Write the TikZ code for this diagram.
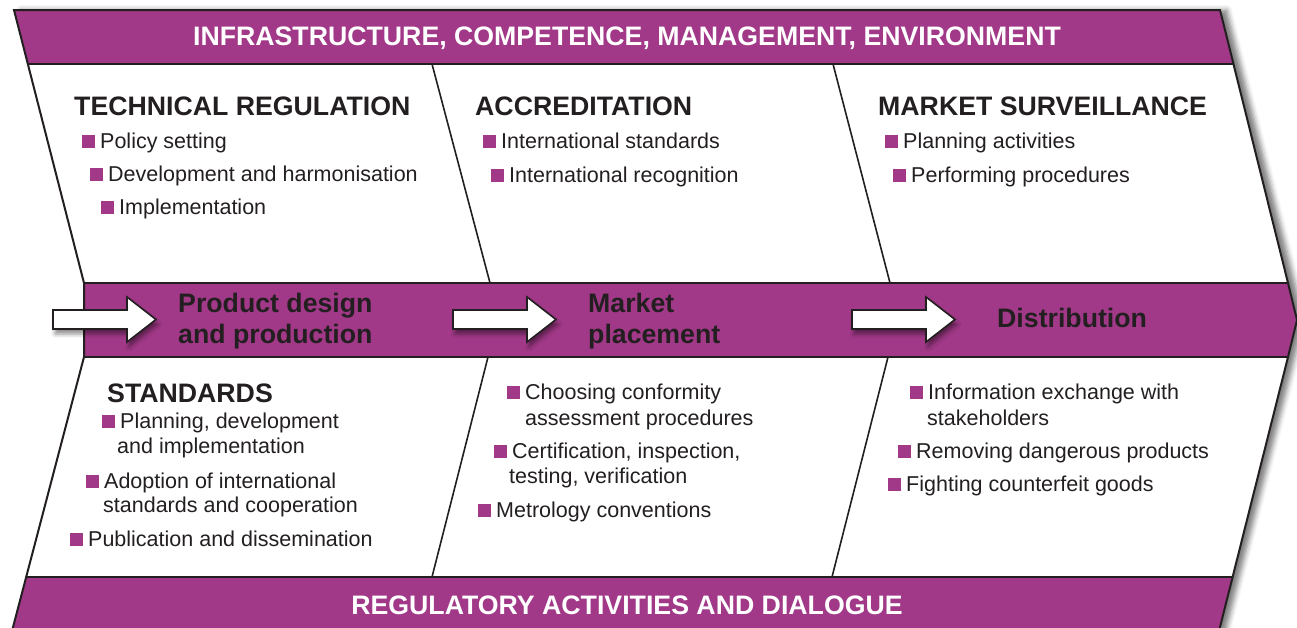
\documentclass[tikz,border=0pt]{standalone}
\usepackage{fontspec}
\setmainfont{Liberation Sans}
\usetikzlibrary{shadows.blur}
\definecolor{regpurple}{RGB}{161,57,136}
\definecolor{inkdark}{RGB}{35,31,32}
\newcommand{\sqbul}{\textcolor{regpurple}{\rule{13pt}{13.5pt}}\hspace{5pt}}
\begin{document}
\begin{tikzpicture}[x=1pt, y=-1pt,
    outline/.style={draw=inkdark, line width=2pt, line join=miter},
    divider/.style={draw=inkdark, line width=1.6pt},
    bandtitle/.style={anchor=base, inner sep=0pt, text=white, font=\bfseries\fontsize{26.7}{32}\selectfont},
    heading/.style={anchor=base west, inner sep=0pt, text=inkdark, font=\bfseries\fontsize{26.7}{32}\selectfont},
    stage/.style={heading},
    itemtext/.style={anchor=base west, inner sep=0pt, text=inkdark, font=\fontsize{21.5}{26}\selectfont},
    flowarrow/.style={fill=white, draw=inkdark, line width=1.6pt, line join=miter,
        blur shadow={shadow xshift=2pt, shadow yshift=-5pt, shadow opacity=45, shadow blur radius=4pt}}]
\useasboundingbox (0,0) rectangle (1297,627);
\coordinate (tl) at (14,10);
\coordinate (tr) at (1220,10);
\coordinate (rtop) at (1288,283);
\coordinate (rtip) at (1297,320);
\coordinate (rbot) at (1288,357);
\coordinate (br) at (1219,631);
\coordinate (bl) at (12,631);
\coordinate (lbot) at (84,357);
\coordinate (ltop) at (84,283);
\path[fill=white, blur shadow={shadow xshift=7pt, shadow yshift=0pt, shadow opacity=50, shadow blur radius=5pt}]
    (tl) -- (tr) -- (rtop) -- (rtip) -- (rbot) -- (br) -- (bl) -- (lbot) -- (ltop) -- cycle;
\begin{scope}
\clip (tl) -- (tr) -- (rtop) -- (rtip) -- (rbot) -- (br) -- (bl) -- (lbot) -- (ltop) -- cycle;
\fill[regpurple] (0,10) rectangle (1297,64);
\fill[regpurple] (0,283) rectangle (1297,357);
\fill[regpurple] (0,577) rectangle (1297,640);
\foreach \by in {64,283,357,577}
    \draw[divider, line width=2pt] (0,\by) -- (1297,\by);
\end{scope}
\draw[outline] (tl) -- (tr) -- (rtop) -- (rtip) -- (rbot) -- (br) -- (bl) -- (lbot) -- (ltop) -- cycle;
\draw[divider] (432,64) -- (490,283);
\draw[divider] (833,64) -- (890,283);
\draw[divider] (488,357) -- (432,577);
\draw[divider] (888,357) -- (832,577);
\foreach \ax in {53,453,852}
    \draw[flowarrow] (\ax,310) -- (\ax+74,310) -- (\ax+74,297) -- (\ax+103,319.5)
        -- (\ax+74,342) -- (\ax+74,329) -- (\ax,329) -- cycle;
\node[bandtitle] (topband) at (627,45) {INFRASTRUCTURE, COMPETENCE, MANAGEMENT, ENVIRONMENT};
\node[bandtitle] (botband) at (627,614) {REGULATORY ACTIVITIES AND DIALOGUE};
\node[stage] (design1) at (178,312) {Product design};
\node[stage] (design2) at (178,343) {and production};
\node[stage] (market1) at (588,312) {Market};
\node[stage] (market2) at (588,343) {placement};
\node[stage] (distrib) at (997,327) {Distribution};
\node[heading] (techreg) at (74,115) {TECHNICAL REGULATION};
\node[itemtext] (tr1) at (82,148) {\sqbul Policy setting};
\node[itemtext] (tr2) at (90,181) {\sqbul Development and harmonisation};
\node[itemtext] (tr3) at (101,214) {\sqbul Implementation};
\node[heading] (accred) at (475,115) {ACCREDITATION};
\node[itemtext] (ac1) at (483,148) {\sqbul International standards};
\node[itemtext] (ac2) at (491,182) {\sqbul International recognition};
\node[heading] (marksurv) at (878,115) {MARKET SURVEILLANCE};
\node[itemtext] (ms1) at (885,148) {\sqbul Planning activities};
\node[itemtext] (ms2) at (893,182) {\sqbul Performing procedures};
\node[heading] (standards) at (107,402) {STANDARDS};
\node[itemtext] (st1) at (102,428) {\sqbul Planning, development};
\node[itemtext] (st1b) at (117,453) {and implementation};
\node[itemtext] (st2) at (86,488) {\sqbul Adoption of international};
\node[itemtext] (st2b) at (103,512) {standards and cooperation};
\node[itemtext] (st3) at (70,546) {\sqbul Publication and dissemination};
\node[itemtext] (ca1) at (507,399) {\sqbul Choosing conformity};
\node[itemtext] (ca1b) at (525,425) {assessment procedures};
\node[itemtext] (ca2) at (494,458) {\sqbul Certification, inspection,};
\node[itemtext] (ca2b) at (509,483) {testing, verification};
\node[itemtext] (ca3) at (478,517) {\sqbul Metrology conventions};
\node[itemtext] (ds1) at (910,399) {\sqbul Information exchange with};
\node[itemtext] (ds1b) at (927,425) {stakeholders};
\node[itemtext] (ds2) at (898,458) {\sqbul Removing dangerous products};
\node[itemtext] (ds3) at (888,491) {\sqbul Fighting counterfeit goods};
\end{tikzpicture}
\end{document}
